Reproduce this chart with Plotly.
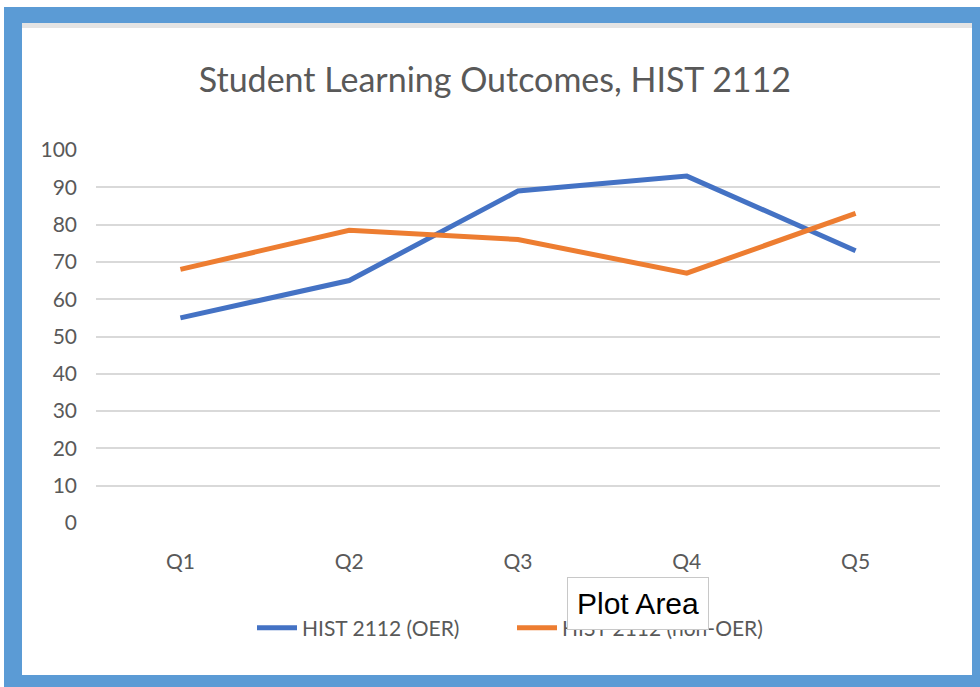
import plotly.graph_objects as go

categories = ["Q1", "Q2", "Q3", "Q4", "Q5"]
oer_values = [55, 65, 89, 93, 73]
non_oer_values = [68, 78.5, 76, 67, 83]
series_names = ["HIST 2112 (OER)", "HIST 2112 (non-OER)"]
y_ticks = list(range(0, 101, 10))

FONT = "Lato"
GREY = "#595959"

fig = go.Figure()
fig.add_trace(go.Scatter(x=categories, y=oer_values, name=series_names[0], mode="lines",
                         line=dict(color="#4472C4", width=5)))
fig.add_trace(go.Scatter(x=categories, y=non_oer_values, name=series_names[1], mode="lines",
                         line=dict(color="#ED7D31", width=5)))

# paper coordinate helpers (plot area: x 96..940, y 150..523 px)
L, R, T, B = 96, 40, 150, 164
PW, PH = 980 - L - R, 687 - T - B
def px(x): return (x - L) / PW
def py(y): return (687 - B - y) / PH

shapes = [
    dict(type="rect", xref="paper", yref="paper", x0=px(4), x1=px(985), y0=py(7), y1=py(690),
         fillcolor="#5B9BD5", line=dict(width=0), layer="below"),
    dict(type="rect", xref="paper", yref="paper", x0=px(22), x1=px(972), y0=py(23), y1=py(675),
         fillcolor="white", line=dict(width=0), layer="below"),
    dict(type="rect", xref="paper", yref="paper", x0=px(22), x1=px(972), y0=py(23), y1=py(28),
         fillcolor="#e4e4e4", line=dict(width=0), layer="below"),
]

fig.update_layout(
    width=980, height=687,
    margin=dict(l=L, r=R, t=T, b=B),
    paper_bgcolor="white", plot_bgcolor="white",
    font=dict(family=FONT, color=GREY, size=21),
    title=dict(text="Student Learning Outcomes, HIST 2112", x=0.505, xanchor="center",
               y=1 - 80 / 687, yanchor="middle", font=dict(family=FONT, size=34, color=GREY)),
    xaxis=dict(type="category", range=[-0.5, 4.5], showgrid=False, showline=False, zeroline=False,
               ticks="", ticklabelstandoff=24, tickfont=dict(size=21, color=GREY)),
    yaxis=dict(range=[0, 100], tickvals=y_ticks, showgrid=True, gridcolor="#d9d9d9", gridwidth=2,
               zeroline=False, showline=False, ticks="", ticklabelstandoff=18,
               tickfont=dict(size=21, color=GREY)),
    legend=dict(orientation="h", x=px(512), xanchor="center", y=py(628), yanchor="middle",
                font=dict(size=21, color=GREY), itemwidth=40, entrywidth=205,
                bgcolor="rgba(0,0,0,0)"),
    shapes=shapes,
    annotations=[dict(text="Plot Area", xref="paper", yref="paper", x=px(638), y=py(603),
                      xanchor="center", yanchor="middle", showarrow=False,
                      font=dict(family="Liberation Sans", size=30, color="black"),
                      bgcolor="white", bordercolor="#c8c8c8", borderwidth=1, borderpad=9)],
)

fig.write_html("out.html", config={"displayModeBar": False},
               post_script="document.body.style.margin='0px';")
